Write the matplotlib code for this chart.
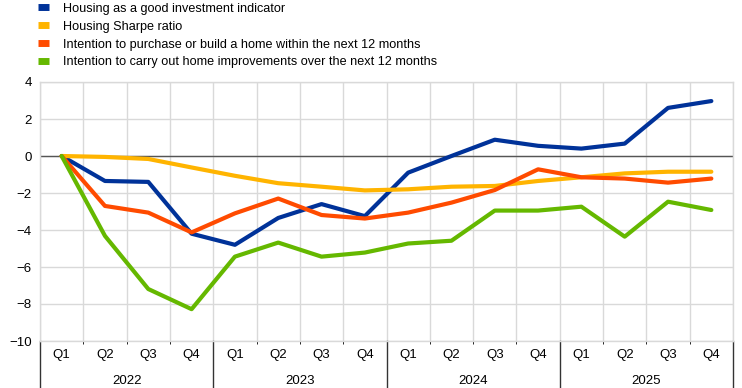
import numpy as np
import matplotlib.pyplot as plt
import matplotlib.transforms as mtransforms

plt.rcParams['font.family'] = ['Liberation Sans', 'DejaVu Sans']

quarters = ["Q1", "Q2", "Q3", "Q4"] * 4
years = ["2022", "2023", "2024", "2025"]

good_investment = [0.0, -1.35, -1.4, -4.2, -4.8, -3.35, -2.6, -3.25,
                   -0.9, 0.0, 0.88, 0.55, 0.4, 0.67, 2.6, 2.97]
sharpe_ratio = [0.0, -0.05, -0.16, -0.62, -1.07, -1.47, -1.66, -1.86,
                -1.8, -1.66, -1.62, -1.35, -1.15, -0.94, -0.85, -0.85]
purchase_intent = [0.0, -2.7, -3.06, -4.13, -3.1, -2.3, -3.19, -3.38,
                   -3.06, -2.52, -1.84, -0.72, -1.15, -1.22, -1.44, -1.22]
improvement_intent = [0.0, -4.32, -7.19, -8.28, -5.44, -4.68, -5.44, -5.22,
                      -4.73, -4.58, -2.95, -2.95, -2.74, -4.36, -2.47, -2.92]

series = [
    ("Housing as a good investment indicator", good_investment, "#003299"),
    ("Housing Sharpe ratio", sharpe_ratio, "#ffb400"),
    ("Intention to purchase or build a home within the next 12 months", purchase_intent, "#ff4b00"),
    ("Intention to carry out home improvements over the next 12 months", improvement_intent, "#65b800"),
]

fig = plt.figure(figsize=(7.42, 3.88), dpi=100)
ax = fig.add_axes([40 / 742, 1 - 341 / 388, 693 / 742, 259 / 388])

x = np.arange(len(quarters))
for label, vals, col in series:
    ax.plot(x, vals, color=col, lw=3, label=label, solid_capstyle="round", zorder=3)

ax.set_xlim(-0.5, len(quarters) - 0.5)
ax.set_ylim(-10, 4)
ax.set_yticks(np.arange(-10, 5, 2))
ax.tick_params(axis="y", length=0, labelsize=9.5, pad=6)
ax.set_xticks(x)
ax.set_xticklabels(quarters)
ax.tick_params(axis="x", length=0, labelsize=9.5, pad=6)

ax.set_xticks(np.arange(-0.5, len(quarters), 1), minor=True)
ax.grid(True, which="minor", axis="x", color="#d9d9d9", lw=1)
ax.grid(True, which="major", axis="y", color="#d9d9d9", lw=1)
ax.axhline(0, color="#555555", lw=1, zorder=2)
for s in ax.spines.values():
    s.set_color("#d9d9d9")
    s.set_linewidth(1)
ax.set_axisbelow(True)

trans = mtransforms.blended_transform_factory(ax.transData, ax.transAxes)
for i, yr in enumerate(years):
    ax.text(i * 4 + 1.5, -0.155, yr, transform=trans, ha="center", va="center", fontsize=9.5)
for b in range(len(years) + 1):
    ax.plot([b * 4 - 0.5] * 2, [0, -0.19], transform=trans, color="#333333",
            lw=1, clip_on=False)

ax.legend(loc="upper left", bbox_to_anchor=(37 / 742, 1 - 2 / 388), bbox_transform=fig.transFigure,
          frameon=False, fontsize=9.1, handlelength=0.9, handletextpad=1.1,
          labelspacing=0.47, borderaxespad=0.0, borderpad=0.05)
leg = ax.get_legend()
for h in leg.legend_handles:
    h.set_linewidth(5)
    h.set_solid_capstyle("butt")

fig.savefig("out.png", dpi=100)
